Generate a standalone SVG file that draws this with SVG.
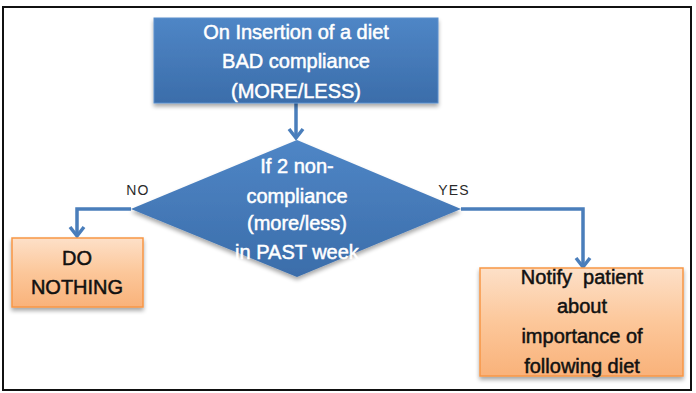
<svg xmlns="http://www.w3.org/2000/svg" width="696" height="393" viewBox="0 0 696 393">
  <defs>
    <linearGradient id="blueFill" x1="0" y1="0" x2="0" y2="1">
      <stop offset="0" stop-color="#4f86c6"/>
      <stop offset="1" stop-color="#3b6daa"/>
    </linearGradient>
    <linearGradient id="orangeFill" x1="0" y1="0" x2="0" y2="1">
      <stop offset="0" stop-color="#fde0c8"/>
      <stop offset="0.5" stop-color="#fcc79a"/>
      <stop offset="1" stop-color="#f9b27a"/>
    </linearGradient>
    <filter id="shadow" x="-10%" y="-10%" width="120%" height="130%">
      <feGaussianBlur in="SourceAlpha" stdDeviation="2"/>
      <feOffset dx="0" dy="3" result="b"/>
      <feComponentTransfer><feFuncA type="linear" slope="0.35"/></feComponentTransfer>
      <feMerge><feMergeNode/><feMergeNode in="SourceGraphic"/></feMerge>
    </filter>
    <!-- downward open chevron, tip at (0,0) -->
    <path id="chevDown" d="M-7,-9 L0,0 L7,-9" fill="none" stroke="#4a7ebb" stroke-width="3.5" stroke-linejoin="miter"/>
    <style>
      .lbl { font-family: "Liberation Sans", Arial, sans-serif; text-anchor: middle; }
      .wt { fill: #ffffff; stroke: #ffffff; stroke-width: 0.5; font-size: 20px; }
      .bk { fill: #111111; stroke: #111111; stroke-width: 0.5; font-size: 20px; }
      .sm { fill: #2a2a2a; font-size: 14px; letter-spacing: 1.2px; }
      .conn { fill: none; stroke: #4a7ebb; stroke-width: 3.5; }
    </style>
  </defs>

  <rect width="696" height="393" fill="#ffffff"/>
  <!-- outer frame -->
  <rect x="3" y="7" width="688" height="383" fill="none" stroke="#111111" stroke-width="2"/>

  <!-- connectors -->
  <g id="connectors">
    <path class="conn" d="M296,103 V137"/>
    <use href="#chevDown" x="296" y="138"/>
    <path class="conn" d="M131,209 H77 V235"/>
    <use href="#chevDown" x="77" y="236"/>
    <path class="conn" d="M461,209 H583 V266"/>
    <use href="#chevDown" x="583" y="267"/>
    <text class="lbl sm" x="138" y="195">NO</text>
    <text class="lbl sm" x="454" y="195">YES</text>
  </g>

  <g id="start">
    <rect x="154" y="18" width="284" height="85" fill="url(#blueFill)" stroke="#5a8fcc" stroke-width="1" filter="url(#shadow)"/>
    <text class="lbl wt" x="296" y="39" font-size="21">On Insertion of a diet</text>
    <text class="lbl wt" x="296" y="68" font-size="21">BAD compliance</text>
    <text class="lbl wt" x="296" y="98" font-size="21">(MORE/LESS)</text>
  </g>

  <g id="decision">
    <polygon points="297,140 461,209 297,277 131,209" fill="url(#blueFill)" filter="url(#shadow)"/>
    <text class="lbl wt" x="297" y="173">If 2 non-</text>
    <text class="lbl wt" x="297" y="203">compliance</text>
    <text class="lbl wt" x="297" y="230">(more/less)</text>
    <text class="lbl wt" x="297" y="259">in PAST week</text>
  </g>

  <g id="do-nothing">
    <rect x="12" y="238" width="131" height="69" fill="url(#orangeFill)" stroke="#f79646" stroke-width="1.5" filter="url(#shadow)"/>
    <text class="lbl bk" x="77" y="265">DO</text>
    <text class="lbl bk" x="77" y="294">NOTHING</text>
  </g>

  <g id="notify">
    <rect x="480" y="268" width="203" height="108" fill="url(#orangeFill)" stroke="#f79646" stroke-width="1.5" filter="url(#shadow)"/>
    <text class="lbl bk" x="582" y="284" xml:space="preserve">Notify  patient</text>
    <text class="lbl bk" x="582" y="313">about</text>
    <text class="lbl bk" x="582" y="343">importance of</text>
    <text class="lbl bk" x="582" y="373">following diet</text>
  </g>
</svg>
